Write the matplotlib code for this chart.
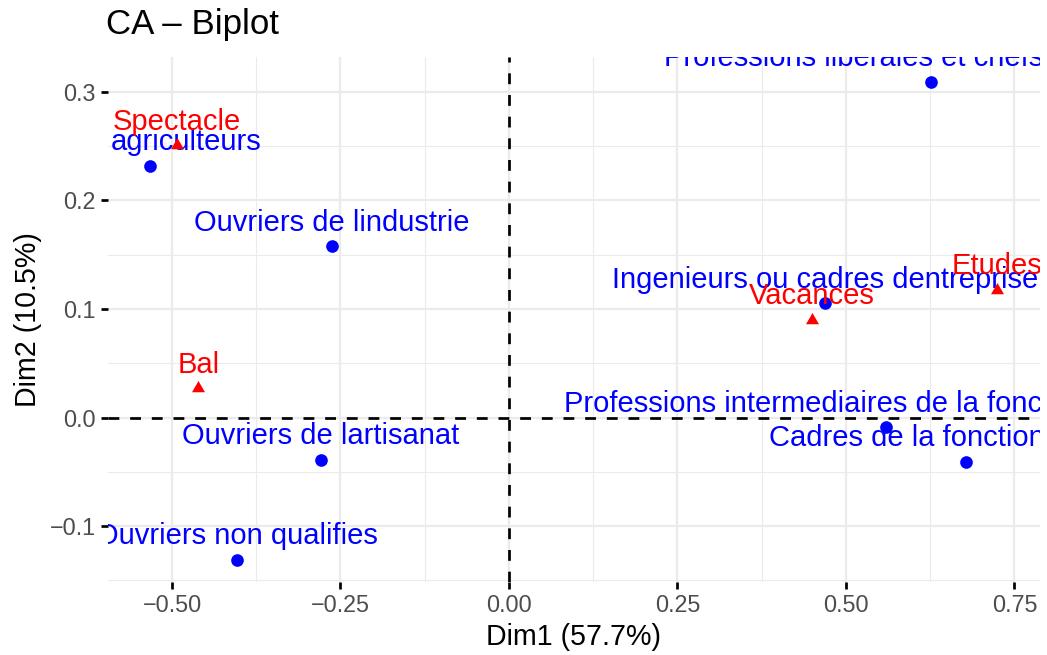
import matplotlib
matplotlib.use("Agg")
import matplotlib.pyplot as plt
from matplotlib.ticker import MultipleLocator, FuncFormatter

# ---- data ----
row_names = ["agriculteurs", "Ouvriers de lindustrie", "Ouvriers de lartisanat",
             "Ouvriers non qualifies", "Professions liberales et chefs dentreprise",
             "Ingenieurs ou cadres dentreprise",
             "Professions intermediaires de la fonction publique",
             "Cadres de la fonction publique"]
row_dim1 = [-0.5326, -0.2631, -0.2794, -0.4031, 0.6257, 0.4688, 0.5589, 0.6780]
row_dim2 = [0.2317, 0.1577, -0.0387, -0.1308, 0.3090, 0.1050, -0.0092, -0.0405]

col_names = ["Spectacle", "Bal", "Vacances", "Etudes"]
col_dim1 = [-0.4930, -0.4610, 0.4500, 0.7245]
col_dim2 = [0.2507, 0.0270, 0.0899, 0.1178]

x_label = "Dim1 (57.7%)"
y_label = "Dim2 (10.5%)"
title = "CA \u2013 Biplot"

# ---- style ----
plt.rcParams["font.family"] = ["Liberation Sans", "DejaVu Sans"]
W, H, DPI = 1047, 655, 100
fig = plt.figure(figsize=(W / DPI, H / DPI), dpi=DPI, facecolor="white")
L, R, T, B = 108, 1040, 57, 582
ax = fig.add_axes([L / W, 1 - B / H, (R - L) / W, (B - T) / H])
ax.set_facecolor("white")
ax.set_xlim(-0.595, 0.788)
ax.set_ylim(-0.1514, 0.3318)

for s in ax.spines.values():
    s.set_visible(False)

ax.xaxis.set_major_locator(MultipleLocator(0.25))
ax.xaxis.set_minor_locator(MultipleLocator(0.125))
ax.yaxis.set_major_locator(MultipleLocator(0.1))
ax.yaxis.set_minor_locator(MultipleLocator(0.05))

def fmt(dec):
    def f(v, pos):
        s = f"{v:.{dec}f}"
        if float(s) == 0:
            s = f"{0:.{dec}f}"
        return s.replace("-", "\u2212")
    return FuncFormatter(f)

ax.xaxis.set_major_formatter(fmt(2))
ax.yaxis.set_major_formatter(fmt(1))

ax.grid(which="major", color="#EBEBEB", lw=1.6, zorder=0)
ax.grid(which="minor", color="#EBEBEB", lw=0.8, zorder=0)
ax.set_axisbelow(True)
ax.tick_params(which="major", direction="out", length=5, width=1.95, color="black",
               labelsize=16.8, labelcolor="#4D4D4D", pad=4.0)
ax.tick_params(which="minor", length=0)

ax.axhline(0, color="black", lw=1.95, ls=(0, (4, 4)), zorder=1.5)
ax.axvline(0, color="black", lw=1.95, ls=(0, (4, 4)), zorder=1.5)

tri = [(0, 1), (-0.866, -0.5), (0.866, -0.5)]
offset_pt = 15.5 * 0.72
# horizontal label nudges (in points), as seen in the reference layout
label_nudge = {"agriculteurs": 36.5 * 0.72}

ax.plot(row_dim1, row_dim2, ls="none", marker="o", ms=9.1, mew=0, color="#0000FF", zorder=2)
for n, x, y in zip(row_names, row_dim1, row_dim2):
    ax.annotate(n, (x, y), xytext=(label_nudge.get(n, 0), offset_pt), textcoords="offset points",
                ha="center", va="baseline", color="#0000FF", fontsize=21,
                clip_on=True, annotation_clip=False, zorder=3)

ax.plot(col_dim1, col_dim2, ls="none", marker=tri, ms=10.8, mew=0, color="#FF0000", zorder=4)
for n, x, y in zip(col_names, col_dim1, col_dim2):
    ax.annotate(n, (x, y), xytext=(label_nudge.get(n, 0), offset_pt), textcoords="offset points",
                ha="center", va="baseline", color="#FF0000", fontsize=21,
                clip_on=True, annotation_clip=False, zorder=5)

fig.text(106.5 / W, 1 - 34 / H, title, ha="left", va="baseline", fontsize=25.1, color="black")
fig.text(574 / W, 1 - 645 / H, x_label, ha="center", va="baseline", fontsize=20.6, color="black")
fig.text(36 / W, 1 - 320 / H, y_label, ha="center", va="baseline", rotation=90,
         rotation_mode="anchor", fontsize=20.6, color="black")

fig.savefig("out.png", dpi=DPI, facecolor="white")
